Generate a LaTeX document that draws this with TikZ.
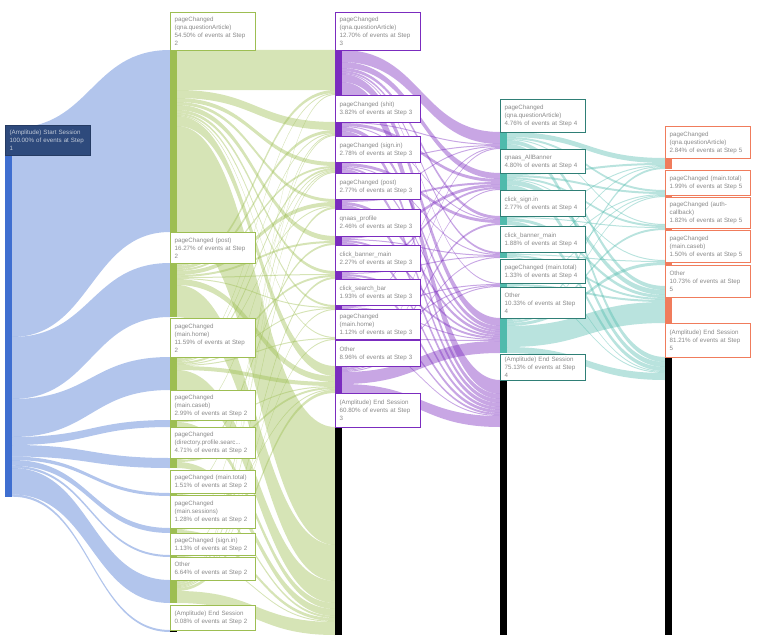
\documentclass[tikz,border=0pt]{standalone}
\usepackage{fontspec}
\setmainfont{Liberation Sans}
\definecolor{c1}{HTML}{3F6FD0}
\definecolor{c2}{HTML}{9DBE52}
\definecolor{c3}{HTML}{7B2CBF}
\definecolor{c4}{HTML}{4FBAAC}
\definecolor{c4b}{HTML}{2F7F76}
\definecolor{c5}{HTML}{F07C5C}
\definecolor{navy}{HTML}{2E4A7C}
\definecolor{txt}{HTML}{8A8A8A}
\newcommand\setpos[2]{\expandafter\xdef\csname o@#1\endcsname{#2}\expandafter\xdef\csname i@#1\endcsname{#2}}
\newcommand\flowb[7]{%
 \pgfmathsetmacro\fsA{\csname o@#4\endcsname}%
 \pgfmathsetmacro\ftA{\csname i@#5\endcsname}%
 \pgfmathsetmacro\fsB{\fsA+#6}%
 \pgfmathsetmacro\ftB{\ftA+#7}%
 \pgfmathsetmacro\fxm{(#2+#3)/2}%
 \fill[#1] (#2,\fsA) .. controls (\fxm,\fsA) and (\fxm,\ftA) .. (#3,\ftA) -- (#3,\ftB) .. controls (\fxm,\ftB) and (\fxm,\fsB) .. (#2,\fsB) -- cycle;%
 \expandafter\xdef\csname o@#4\endcsname{\fsB}%
 \expandafter\xdef\csname i@#5\endcsname{\ftB}%
}
\newcommand\flB[4]{\flowb{fb}{12}{170}{#1}{#2}{#3}{#4}}
\newcommand\flG[4]{\flowb{fg}{177}{335}{#1}{#2}{#3}{#4}}
\newcommand\flP[4]{\flowb{fp}{342}{500}{#1}{#2}{#3}{#4}}
\newcommand\flT[4]{\flowb{ft}{507}{665}{#1}{#2}{#3}{#4}}
\newcommand\lbl[6]{\node[#2, minimum height={(#5-#4)*1pt}] (#1) at (#3,#4) {#6};}
\newcommand\barseg[4]{\fill[#1] (#2,#3) rectangle ++(7,#4-#3);}
\tikzset{
 lbox/.style={draw, fill=white, line width=1.3pt, inner xsep=4pt, inner ysep=2pt, anchor=north west, text width=77pt, align=left, font=\fontsize{6.2}{8}\selectfont, text=txt},
 lb2/.style={lbox, draw=c2}, lb3/.style={lbox, draw=c3}, lb4/.style={lbox, draw=c4b}, lb5/.style={lbox, draw=c5},
 lb1/.style={lbox, draw=navy!80!black, fill=navy, text=navy!30!white},
 fb/.style={fill=c1, fill opacity=0.4},
 fg/.style={fill=c2, fill opacity=0.42},
 fp/.style={fill=c3, fill opacity=0.42},
 ft/.style={fill=c4, fill opacity=0.4},
}
\begin{document}
\begin{tikzpicture}[x=1pt,y=-1pt]
\useasboundingbox (0,0) rectangle (768,642);
% positions
\setpos{s1}{128}
\setpos{bA}{50}\setpos{bB}{263}\setpos{bC}{357}\setpos{bD}{420}\setpos{bE}{458}
\setpos{bF}{493}\setpos{bG}{528}\setpos{bH}{555}\setpos{bI}{580}\setpos{bJ}{630}
\setpos{ca}{50}\setpos{cb}{122}\setpos{cc}{162}\setpos{cd}{199}\setpos{ce}{236}
\setpos{cf}{271}\setpos{cg}{305}\setpos{ch}{337}\setpos{ci}{366}\setpos{cj}{427}
\setpos{dA}{132}\setpos{dB}{173}\setpos{dC}{216}\setpos{dD}{252}\setpos{dE}{283}\setpos{dF}{318}\setpos{dG}{380}
\setpos{ea}{158}\setpos{eb}{190}\setpos{ec}{224}\setpos{ed}{260}\setpos{ee}{286}\setpos{ef}{357}
% step 1 -> 2
\flB{s1}{bA}{209}{182}\flB{s1}{bB}{62}{54}\flB{s1}{bC}{38}{33}\flB{s1}{bD}{8}{7}
\flB{s1}{bE}{11.5}{10}\flB{s1}{bF}{3.5}{3}\flB{s1}{bG}{5.7}{5}\flB{s1}{bH}{2.3}{2}
\flB{s1}{bI}{26.4}{23}\flB{s1}{bJ}{2.3}{2}
% step 2 -> 3
\flG{bA}{ca}{40}{40}\flG{bA}{cb}{8}{8}\flG{bA}{cc}{4}{4}\flG{bA}{cd}{3}{3}\flG{bA}{ce}{5}{5}
\flG{bA}{cf}{3}{3}\flG{bA}{cg}{2}{2}\flG{bA}{ch}{1}{1}\flG{bA}{ci}{10}{10}\flG{bA}{cj}{106}{118}
\flG{bB}{ca}{3}{3}\flG{bB}{cb}{3}{3}\flG{bB}{cc}{2}{2}\flG{bB}{cd}{4}{4}\flG{bB}{ce}{2}{2}
\flG{bB}{cf}{1}{1}\flG{bB}{cg}{1}{1}\flG{bB}{ci}{6}{6}\flG{bB}{cj}{32}{36}
\flG{bC}{ca}{1}{1}\flG{bC}{cb}{1}{1}\flG{bC}{cc}{2}{2}\flG{bC}{cd}{1}{1}\flG{bC}{cf}{2}{2}
\flG{bC}{cg}{1}{1}\flG{bC}{ch}{1}{1}\flG{bC}{ci}{4}{4}\flG{bC}{cj}{20}{22}
\flG{bD}{cc}{1}{1}\flG{bD}{ci}{1}{1}\flG{bD}{cj}{5}{6}
\flG{bE}{ce}{2}{2}\flG{bE}{ci}{2}{2}\flG{bE}{cj}{6}{7}
\flG{bF}{cc}{1}{1}\flG{bF}{cj}{2}{2}
\flG{bG}{cb}{1}{1}\flG{bG}{ci}{1}{1}\flG{bG}{cj}{3}{3}
\flG{bH}{cc}{1}{1}\flG{bH}{cj}{1}{1}
\flG{bI}{ca}{1}{1}\flG{bI}{cb}{1}{1}\flG{bI}{cd}{2}{2}\flG{bI}{cf}{2}{2}\flG{bI}{cg}{1}{1}
\flG{bI}{ch}{1}{1}\flG{bI}{ci}{3}{3}\flG{bI}{cj}{12}{13}
% step 3 -> 4
\flP{ca}{dA}{12}{12}\flP{ca}{dB}{6}{6}\flP{ca}{dC}{3}{3}\flP{ca}{dD}{2}{2}\flP{ca}{dE}{1}{1}\flP{ca}{dF}{8}{8}\flP{ca}{dG}{13}{14}
\flP{cb}{dA}{1}{1}\flP{cb}{dB}{3}{3}\flP{cb}{dC}{1}{1}\flP{cb}{dF}{4}{4}\flP{cb}{dG}{5}{5}
\flP{cc}{dA}{1}{1}\flP{cc}{dC}{3}{3}\flP{cc}{dD}{1}{1}\flP{cc}{dF}{2}{2}\flP{cc}{dG}{4}{4}
\flP{cd}{dA}{1}{1}\flP{cd}{dB}{2}{2}\flP{cd}{dF}{3}{3}\flP{cd}{dG}{4}{4}
\flP{ce}{dB}{3}{3}\flP{ce}{dD}{1}{1}\flP{ce}{dF}{2}{2}\flP{ce}{dG}{3}{3}
\flP{cf}{dB}{2}{2}\flP{cf}{dD}{1}{1}\flP{cf}{dF}{2}{2}\flP{cf}{dG}{3}{3}
\flP{cg}{dA}{1}{1}\flP{cg}{dE}{1}{1}\flP{cg}{dF}{1}{1}\flP{cg}{dG}{2}{2}
\flP{ch}{dE}{1}{1}\flP{ch}{dF}{1}{1}\flP{ch}{dG}{1}{1}
\flP{ci}{dA}{1}{1}\flP{ci}{dB}{1}{1}\flP{ci}{dC}{2}{2}\flP{ci}{dD}{1}{1}\flP{ci}{dE}{1}{1}\flP{ci}{dF}{12}{12}\flP{ci}{dG}{9}{11}
% step 4 -> 5
\flT{dA}{ea}{5}{5}\flT{dA}{eb}{2}{2}\flT{dA}{ec}{1}{1}\flT{dA}{ee}{4}{4}\flT{dA}{ef}{5}{5}
\flT{dB}{ea}{2}{2}\flT{dB}{eb}{2}{2}\flT{dB}{ec}{2}{2}\flT{dB}{ed}{1}{1}\flT{dB}{ee}{5}{5}\flT{dB}{ef}{5}{5}
\flT{dC}{ea}{1}{1}\flT{dC}{ec}{1}{1}\flT{dC}{ee}{3}{3}\flT{dC}{ef}{4}{4}
\flT{dD}{ea}{1}{1}\flT{dD}{eb}{1}{1}\flT{dD}{ed}{1}{1}\flT{dD}{ee}{2}{2}\flT{dD}{ef}{1}{1}
\flT{dE}{eb}{1}{1}\flT{dE}{ee}{2}{2}\flT{dE}{ef}{1}{1}
\flT{dF}{ea}{2}{2}\flT{dF}{eb}{1}{1}\flT{dF}{ec}{2}{2}\flT{dF}{ed}{3}{3}\flT{dF}{ee}{21}{21}\flT{dF}{ef}{6}{7}
% bars
\barseg{c1}{5}{128}{497}
\barseg{c2}{170}{50}{232}\barseg{c2}{170}{263}{317}\barseg{c2}{170}{357}{390}\barseg{c2}{170}{420}{427}
\barseg{c2}{170}{458}{468}\barseg{c2}{170}{493}{496}\barseg{c2}{170}{528}{533}\barseg{c2}{170}{555}{557}
\barseg{c2}{170}{580}{603}\barseg{black}{170}{630}{632}
\barseg{c3}{335}{50}{95}\barseg{c3}{335}{122}{136}\barseg{c3}{335}{162}{173}\barseg{c3}{335}{199}{209}
\barseg{c3}{335}{236}{245}\barseg{c3}{335}{271}{279}\barseg{c3}{335}{305}{310}\barseg{c3}{335}{337}{340}
\barseg{c3}{335}{366}{393}\barseg{black}{335}{427}{635}
\barseg{c4}{500}{132}{149}\barseg{c4}{500}{173}{190}\barseg{c4}{500}{216}{225}\barseg{c4}{500}{252}{258}
\barseg{c4}{500}{283}{287}\barseg{c4}{500}{318}{353}\barseg{black}{500}{380}{635}
\barseg{c5}{665}{158}{169}\barseg{c5}{665}{190}{197}\barseg{c5}{665}{224}{230}\barseg{c5}{665}{260}{265}
\barseg{c5}{665}{286}{323}\barseg{black}{665}{357}{635}
% labels step 1
\lbl{start}{lb1}{5}{125}{155}{(Amplitude) Start Session\\100.00\% of events at Step\\1}
% step 2
\lbl{s2a}{lb2}{170}{12}{50}{pageChanged\\(qna.questionArticle)\\54.50\% of events at Step\\2}
\lbl{s2b}{lb2}{170}{232}{263}{pageChanged (post)\\16.27\% of events at Step\\2}
\lbl{s2c}{lb2}{170}{318}{357}{pageChanged\\(main.home)\\11.59\% of events at Step\\2}
\lbl{s2d}{lb2}{170}{390}{420}{pageChanged\\(main.caseb)\\2.99\% of events at Step 2}
\lbl{s2e}{lb2}{170}{427}{458}{pageChanged\\(directory.profile.searc...\\4.71\% of events at Step 2}
\lbl{s2f}{lb2}{170}{470}{493}{pageChanged (main.total)\\1.51\% of events at Step 2}
\lbl{s2g}{lb2}{170}{495}{528}{pageChanged\\(main.sessions)\\1.28\% of events at Step 2}
\lbl{s2h}{lb2}{170}{533}{555}{pageChanged (sign.in)\\1.13\% of events at Step 2}
\lbl{s2i}{lb2}{170}{557}{580}{Other\\6.64\% of events at Step 2}
\lbl{s2j}{lb2}{170}{605}{630}{(Amplitude) End Session\\0.08\% of events at Step 2}
% step 3
\lbl{s3a}{lb3}{335}{12}{50}{pageChanged\\(qna.questionArticle)\\12.70\% of events at Step\\3}
\lbl{s3b}{lb3}{335}{95}{122}{pageChanged (shit)\\3.82\% of events at Step 3}
\lbl{s3c}{lb3}{335}{136}{162}{pageChanged (sign.in)\\2.78\% of events at Step 3}
\lbl{s3d}{lb3}{335}{173}{199}{pageChanged (post)\\2.77\% of events at Step 3}
\lbl{s3e}{lb3}{335}{209}{236}{qnaas\_profile\\2.46\% of events at Step 3}
\lbl{s3f}{lb3}{335}{245}{271}{click\_banner\_main\\2.27\% of events at Step 3}
\lbl{s3g}{lb3}{335}{279}{305}{click\_search\_bar\\1.93\% of events at Step 3}
\lbl{s3h}{lb3}{335}{309}{339}{pageChanged\\(main.home)\\1.12\% of events at Step 3}
\lbl{s3i}{lb3}{335}{340}{366}{Other\\8.96\% of events at Step 3}
\lbl{s3j}{lb3}{335}{393}{427}{(Amplitude) End Session\\60.80\% of events at Step\\3}
% step 4
\lbl{s4a}{lb4}{500}{99}{132}{pageChanged\\(qna.questionArticle)\\4.76\% of events at Step 4}
\lbl{s4b}{lb4}{500}{149}{173}{qnaas\_AllBanner\\4.80\% of events at Step 4}
\lbl{s4c}{lb4}{500}{190}{216}{click\_sign.in\\2.77\% of events at Step 4}
\lbl{s4d}{lb4}{500}{226}{252}{click\_banner\_main\\1.88\% of events at Step 4}
\lbl{s4e}{lb4}{500}{259}{283}{pageChanged (main.total)\\1.33\% of events at Step 4}
\lbl{s4f}{lb4}{500}{287}{318}{Other\\10.33\% of events at Step\\4}
\lbl{s4g}{lb4}{500}{354}{380}{(Amplitude) End Session\\75.13\% of events at Step\\4}
% step 5
\lbl{s5a}{lb5}{665}{126}{158}{pageChanged\\(qna.questionArticle)\\2.84\% of events at Step 5}
\lbl{s5b}{lb5}{665}{170}{195}{pageChanged (main.total)\\1.99\% of events at Step 5}
\lbl{s5c}{lb5}{665}{197}{228}{pageChanged (auth-\\callback)\\1.82\% of events at Step 5}
\lbl{s5d}{lb5}{665}{230}{262}{pageChanged\\(main.caseb)\\1.50\% of events at Step 5}
\lbl{s5e}{lb5}{665}{265}{297}{Other\\10.73\% of events at Step\\5}
\lbl{s5f}{lb5}{665}{323}{357}{(Amplitude) End Session\\81.21\% of events at Step\\5}
\end{tikzpicture}
\end{document}
